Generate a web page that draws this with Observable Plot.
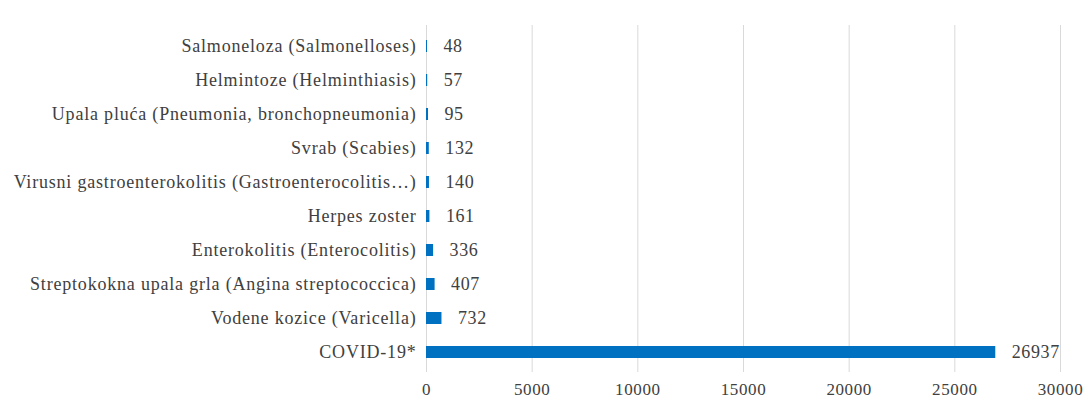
<!DOCTYPE html>
<html><head><meta charset="utf-8">
<script src="https://cdn.jsdelivr.net/npm/d3@7"></script>
<script src="https://cdn.jsdelivr.net/npm/@observablehq/plot@0.6"></script>
<style>
body{margin:0;background:#fff}
svg, svg text{font-family:"Liberation Serif", "Times New Roman", serif !important;}
</style>
</head><body><div id="chart"></div>
<script>
const categories = [
  "Salmoneloza (Salmonelloses)",
  "Helmintoze (Helminthiasis)",
  "Upala pluća (Pneumonia, bronchopneumonia)",
  "Svrab (Scabies)",
  "Virusni gastroenterokolitis (Gastroenterocolitis…)",
  "Herpes zoster",
  "Enterokolitis (Enterocolitis)",
  "Streptokokna upala grla (Angina streptococcica)",
  "Vodene kozice (Varicella)",
  "COVID-19*"
];
const values = [48, 57, 95, 132, 140, 161, 336, 407, 732, 26937];
const xTicks = [0, 5000, 10000, 15000, 20000, 25000, 30000];

const data = categories.map((c, i) => ({category: c, value: values[i]}));

const chart = Plot.plot({
  width: 1090, height: 400,
  marginLeft: 426, marginRight: 30, marginTop: 25, marginBottom: 28,
  style: {fontFamily: "Liberation Serif", fontSize: "18px", color: "#404040", background: "#fff"},
  x: {domain: [0, 30000], label: null},
  y: {domain: categories, paddingInner: 0.65, paddingOuter: 0.325, label: null},
  marks: [
    Plot.gridX(xTicks, {stroke: "#d9d9d9", strokeOpacity: 1}),
    Plot.barX(data, {x: "value", y: "category", fill: "#0070c0"}),
    Plot.text(data, {x: "value", y: "category", text: d => String(d.value), textAnchor: "start", dx: 16, fill: "#404040", fontSize: 18}),
    Plot.axisX({ticks: xTicks, tickSize: 0, tickPadding: 10, tickFormat: d => String(d), label: null, fontSize: 17}),
    Plot.axisY({tickSize: 0, tickPadding: 10, label: null, fontSize: 18})
  ]
});
chart.querySelectorAll("g[aria-label='y-axis tick label'] text").forEach(t => t.setAttribute("letter-spacing", "0.8"));
chart.querySelectorAll("g[aria-label='text'] text, g[aria-label='x-axis tick label'] text").forEach(t => t.setAttribute("letter-spacing", "0.6"));
document.getElementById("chart").appendChild(chart);
</script>
</body></html>
